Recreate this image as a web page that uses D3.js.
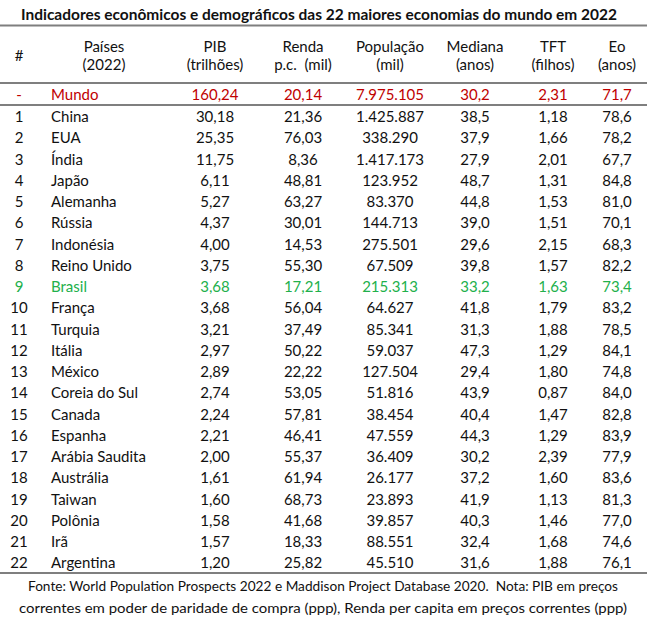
<!DOCTYPE html>
<html><head><meta charset="utf-8">
<script src="https://cdn.jsdelivr.net/npm/d3@7"></script>
<style>body{margin:0;background:#fff}svg{display:block}text{font-family:Lato,"Open Sans",sans-serif;white-space:pre}</style>
</head><body><svg id="c" width="647" height="626"></svg>
<script>
const title = "Indicadores econômicos e demográficos das 22 maiores economias do mundo em 2022";
const headers1 = ["#", "Países", "PIB", "Renda", "População", "Mediana", "TFT", "Eo"];
const headers2 = ["", "(2022)", "(trilhões)", "p.c.  (mil)", "(mil)", "(anos)", "(filhos)", "(anos)"];
const world = ["-", "Mundo", "160,24", "20,14", "7.975.105", "30,2", "2,31", "71,7"];
const ranks = ["1","2","3","4","5","6","7","8","9","10","11","12","13","14","15","16","17","18","19","20","21","22"];
const countries = ["China","EUA","Índia","Japão","Alemanha","Rússia","Indonésia","Reino Unido","Brasil","França","Turquia","Itália","México","Coreia do Sul","Canada","Espanha","Arábia Saudita","Austrália","Taiwan","Polônia","Irã","Argentina"];
const pib = ["30,18","25,35","11,75","6,11","5,27","4,37","4,00","3,75","3,68","3,68","3,21","2,97","2,89","2,74","2,24","2,21","2,00","1,61","1,60","1,58","1,57","1,20"];
const renda = ["21,36","76,03","8,36","48,81","63,27","30,01","14,53","55,30","17,21","56,04","37,49","50,22","22,22","53,05","57,81","46,41","55,37","61,94","68,73","41,68","18,33","25,82"];
const populacao = ["1.425.887","338.290","1.417.173","123.952","83.370","144.713","275.501","67.509","215.313","64.627","85.341","59.037","127.504","51.816","38.454","47.559","36.409","26.177","23.893","39.857","88.551","45.510"];
const mediana = ["38,5","37,9","27,9","48,7","44,8","39,0","29,6","39,8","33,2","41,8","31,3","47,3","29,4","43,9","40,4","44,3","30,2","37,2","41,9","40,3","32,4","31,6"];
const tft = ["1,18","1,66","2,01","1,31","1,53","1,51","2,15","1,57","1,63","1,79","1,88","1,29","1,80","0,87","1,47","1,29","2,39","1,60","1,13","1,46","1,68","1,88"];
const eo = ["78,6","78,2","67,7","84,8","81,0","70,1","68,3","82,2","73,4","83,2","78,5","84,1","74,8","84,0","82,8","83,9","77,9","83,6","81,3","77,0","74,6","76,1"];
const footer = ["Fonte: World Population Prospects 2022 e Maddison Project Database 2020.  Nota: PIB em preços",
                "correntes em poder de paridade de compra (ppp), Renda per capita em preços correntes (ppp)"];

const svg = d3.select("#c");
const W = 647;
const colX = [19, 51, 215, 303, 390, 475, 553, 617];
const hdrX = [19, 104, 215, 303, 390, 475, 553, 617];
const rows = ranks.map((r,i)=>[r, countries[i], pib[i], renda[i], populacao[i], mediana[i], tft[i], eo[i]]);
const y = d3.scaleLinear().domain([0, rows.length-1]).range([117, 563]);

svg.append("text").attr("x", 319).attr("y", 20).attr("text-anchor","middle")
  .attr("font-size", 14.5).attr("font-weight", "bold").attr("fill","#111")
  .attr("textLength", 596).attr("lengthAdjust","spacingAndGlyphs").text(title);

const lines = [[25.5, 2.2], [83, 2], [105, 2], [573, 2]];
lines.forEach(([ly, w]) => svg.append("line").attr("x1",0).attr("x2",W).attr("y1",ly).attr("y2",ly)
  .attr("stroke","#7f7f7f").attr("stroke-width", w));

const fs = 15;
function row(vals, yy, color, weight, xs, anchors) {
  vals.forEach((v, j) => {
    svg.append("text").attr("x", xs[j]).attr("y", yy).attr("dy","0.35em")
      .attr("text-anchor", anchors[j]).attr("font-size", fs).attr("fill", color)
      .attr("font-weight", weight).text(v);
  });
}
const anchorsBody = ["middle","start","middle","middle","middle","middle","middle","middle"];
const anchorsHdr = headers1.map(()=>"middle");
row(headers1, 47, "#111", "normal", hdrX, anchorsHdr);
row(headers2, 65, "#111", "normal", hdrX, anchorsHdr);
svg.selectAll("text").filter(function(){return d3.select(this).text()==="#";}).attr("y", 56);
row(world, 95, "#c00000", "normal", colX, anchorsBody);
rows.forEach((r, i) => {
  const br = r[1] === "Brasil";
  row(r, y(i), br ? "#22b04b" : "#111", "normal", colX, anchorsBody);
});

footer.forEach((t, i) => svg.append("text").attr("x", 323).attr("y", 586 + i*22).attr("dy","0.35em")
  .attr("text-anchor","middle").attr("font-size", 14).attr("fill","#111")
  .attr("textLength", i===0 ? 590 : 608).attr("lengthAdjust","spacingAndGlyphs").text(t));
</script></body></html>
